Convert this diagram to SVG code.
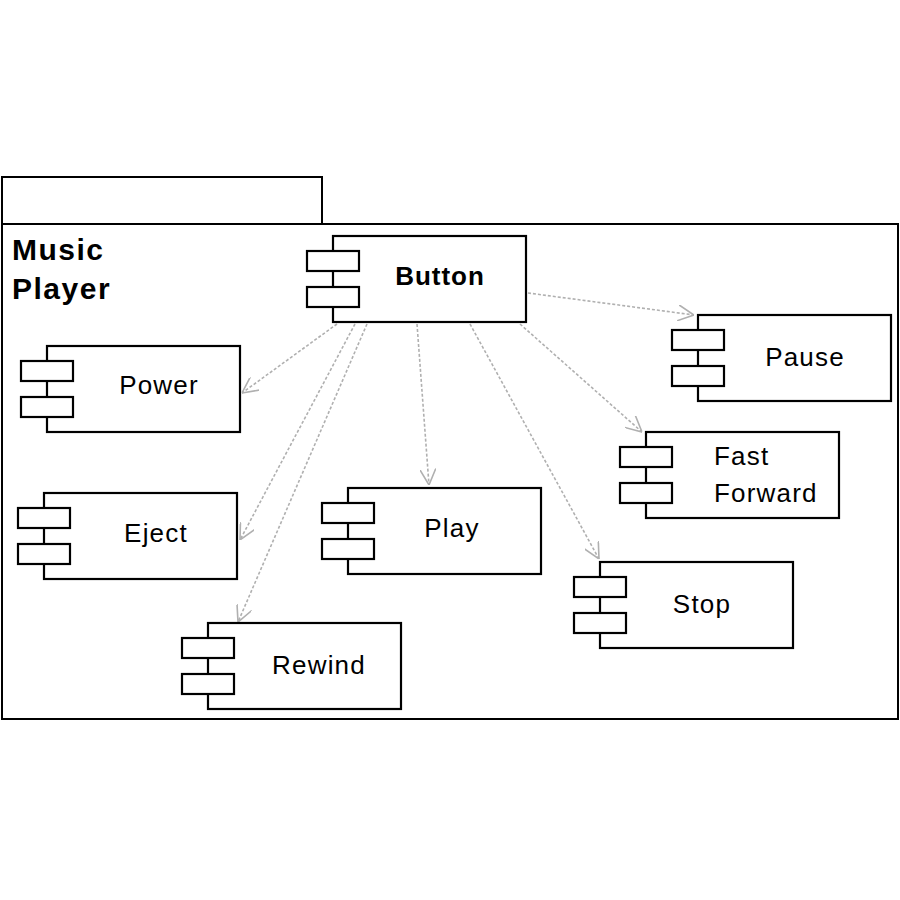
<svg xmlns="http://www.w3.org/2000/svg" width="900" height="900" viewBox="0 0 900 900">
<style>
.pkg{fill:#fff;stroke:#000;stroke-width:2}
.box{fill:#fff;stroke:#000;stroke-width:2.2}
.lbl{font-family:"Liberation Sans",Arial,sans-serif;font-size:26px;letter-spacing:1.2px;fill:#000}
.bold{font-weight:bold}
.conn{fill:none;stroke:#b0b0b0;stroke-width:1.6;stroke-dasharray:3 2}
</style>
<defs>
<marker id="arr" viewBox="0 0 16 16" refX="16" refY="8" markerWidth="16" markerHeight="16" markerUnits="userSpaceOnUse" orient="auto">
<path d="M0,0 L16,8 L0,16" fill="none" stroke="#b0b0b0" stroke-width="1.6"/>
</marker>
<g id="comp">
<rect class="box" x="26" y="0" width="193" height="86"/>
<rect class="box" x="0" y="15" width="52" height="20"/>
<rect class="box" x="0" y="51" width="52" height="20"/>
</g>
</defs>
<rect width="900" height="900" fill="#fff"/>
<g id="package">
<rect class="pkg" x="2" y="177" width="320" height="47"/>
<rect class="pkg" x="2" y="224" width="896" height="495"/>
<text class="lbl bold" x="12" y="260" style="font-size:30px;letter-spacing:1.5px">Music</text>
<text class="lbl bold" x="12" y="299" style="font-size:30px;letter-spacing:1.5px">Player</text>
</g>
<g id="connectors">
<line class="conn" x1="337" y1="324" x2="242" y2="393" marker-end="url(#arr)"/>
<line class="conn" x1="355" y1="324" x2="240" y2="540" marker-end="url(#arr)"/>
<line class="conn" x1="367" y1="324" x2="238" y2="622" marker-end="url(#arr)"/>
<line class="conn" x1="417" y1="324" x2="429" y2="485" marker-end="url(#arr)"/>
<line class="conn" x1="470" y1="324" x2="599" y2="559" marker-end="url(#arr)"/>
<line class="conn" x1="520" y1="324" x2="642" y2="432" marker-end="url(#arr)"/>
<line class="conn" x1="528" y1="293" x2="694" y2="315" marker-end="url(#arr)"/>
</g>
<g id="button">
<use href="#comp" x="307" y="236"/>
<text class="lbl bold" x="440" y="285" text-anchor="middle" style="font-size:26px;letter-spacing:1px">Button</text>
</g>
<g id="pause">
<use href="#comp" x="672" y="315"/>
<text class="lbl" x="805" y="366" text-anchor="middle">Pause</text>
</g>
<g id="power">
<use href="#comp" x="21" y="346"/>
<text class="lbl" x="159" y="394" text-anchor="middle">Power</text>
</g>
<g id="fastforward">
<use href="#comp" x="620" y="432"/>
<text class="lbl" x="714" y="465">Fast</text>
<text class="lbl" x="714" y="502">Forward</text>
</g>
<g id="eject">
<use href="#comp" x="18" y="493"/>
<text class="lbl" x="156" y="542" text-anchor="middle">Eject</text>
</g>
<g id="play">
<use href="#comp" x="322" y="488"/>
<text class="lbl" x="452" y="537" text-anchor="middle">Play</text>
</g>
<g id="stop">
<use href="#comp" x="574" y="562"/>
<text class="lbl" x="702" y="613" text-anchor="middle">Stop</text>
</g>
<g id="rewind">
<use href="#comp" x="182" y="623"/>
<text class="lbl" x="319" y="674" text-anchor="middle">Rewind</text>
</g>
</svg>
